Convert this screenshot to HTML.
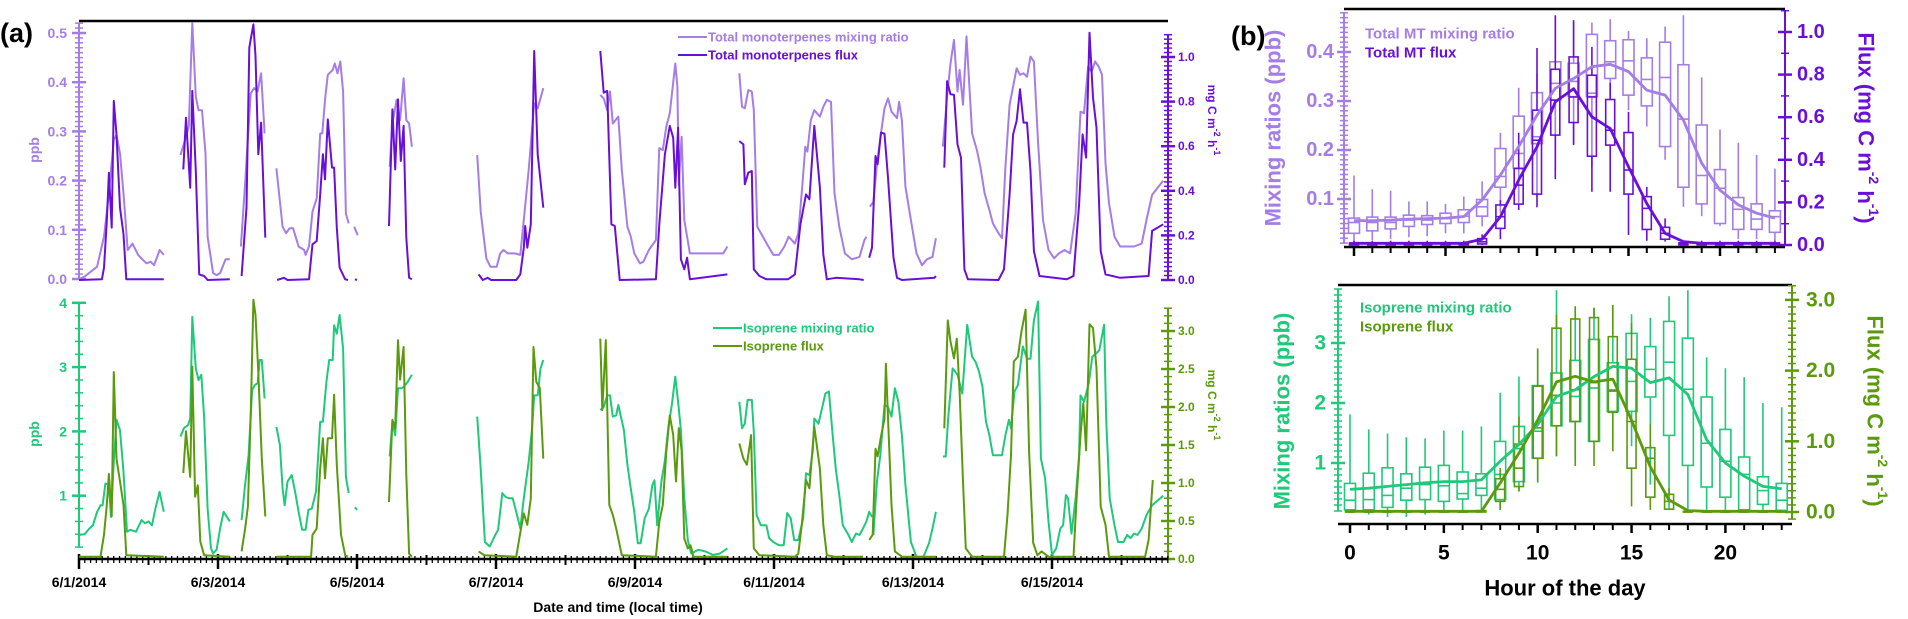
<!DOCTYPE html>
<html><head><meta charset="utf-8"><style>
html,body{margin:0;padding:0;background:#fff;}
svg{display:block;font-family:"Liberation Sans",Arial,sans-serif;font-weight:bold;}
</style></head><body>
<svg id="fig" width="1908" height="619" viewBox="0 0 1908 619" xmlns="http://www.w3.org/2000/svg"></svg>
<script>
// ---------- Panel (a) time series data (days since 6/1/2014, null = gap) ----------
const mtPpbT=[0,.08,.26,.36,.43,.50,.54,.59,.64,.70,.77,.85,.92,.97,1.03,1.08,1.16,1.22,null,
1.46,1.54,1.58,1.63,1.68,1.72,1.77,1.82,1.85,1.93,1.98,2.03,2.11,2.17,null,
2.33,2.39,2.47,2.52,2.57,2.62,2.67,null,
2.84,2.93,2.98,3.03,3.08,3.16,3.24,3.26,3.31,3.36,3.42,3.47,3.50,3.54,3.58,3.65,3.68,3.72,3.76,3.80,3.84,3.88,null,
3.96,4.01,null,
4.47,4.51,4.57,4.62,4.67,4.71,4.75,4.79,null,
5.73,5.78,5.86,5.92,6.01,6.06,6.11,6.17,6.27,6.35,6.40,6.47,6.55,6.60,6.68,null,
7.50,7.55,7.60,7.64,7.68,7.76,7.81,7.89,7.94,7.99,8.07,8.12,8.20,8.30,8.35,8.40,8.45,8.50,8.58,8.61,8.63,8.67,8.71,8.79,8.97,9.17,9.27,9.33,null,
9.50,9.54,9.58,9.63,9.68,9.71,9.76,9.84,9.92,9.99,10.07,10.15,10.21,10.30,10.35,10.41,10.45,10.48,10.53,10.58,10.66,10.71,10.76,10.82,10.87,10.94,11.02,11.12,11.23,11.30,11.33,null,
11.38,11.43,11.48,11.54,11.59,11.64,11.69,11.77,11.80,11.84,11.89,11.97,12.05,12.13,12.20,12.28,12.33,null,
12.43,12.49,12.54,12.59,12.64,12.67,12.72,12.77,12.85,12.92,12.97,13.03,13.10,13.15,13.23,13.28,13.33,13.39,13.44,13.49,13.54,13.59,13.64,13.69,13.74,13.80,13.87,13.95,14.03,14.10,14.18,14.26,14.34,14.41,14.46,14.52,14.57,14.62,14.67,14.72,14.77,14.82,14.90,14.98,15.18,15.29,15.36,15.44,15.60];
const mtPpbV=[0,.005,.025,.086,.174,.283,.293,.255,.174,.059,.072,.049,.039,.032,.035,.028,.059,.049,null,
.252,.289,.31,.52,.371,.343,.343,.255,.086,.012,.008,.012,.04,.04,null,
.066,.194,.377,.388,.381,.418,.296,null,
.225,.106,.093,.103,.103,.066,.059,.049,.066,.137,.164,.296,.296,.364,.415,.425,.438,.418,.442,.381,.133,.113,null,
.106,.089,null,
.228,.316,.364,.323,.408,.323,.316,.269,null,
.252,.137,.042,.025,.025,.052,.059,.052,.052,.049,.12,.222,.357,.347,.388,null,
.374,.367,.343,.381,.316,.33,.222,.106,.086,.052,.032,.035,.059,.079,.266,.262,.31,.337,.438,.391,.191,.289,.12,.052,.052,.052,.052,.066,null,
.418,.35,.347,.384,.381,.343,.106,.086,.066,.049,.049,.066,.086,.072,.093,.194,.269,.259,.323,.343,.33,.35,.364,.36,.174,.106,.052,.04,.045,.079,.086,null,
.147,.157,.232,.296,.347,.367,.34,.327,.36,.323,.188,.12,.052,.028,.04,.045,.083,null,
.269,.371,.438,.486,.381,.425,.354,.493,.296,.262,.228,.174,.14,.113,.093,.083,.228,.354,.391,.428,.415,.418,.411,.452,.442,.276,.12,.059,.042,.052,.059,.052,.133,.34,.337,.432,.421,.442,.432,.415,.235,.154,.086,.066,.066,.072,.12,.171,.2];

const mtFluxT=[0,.33,.36,.40,.43,.47,.50,.54,.59,.64,.68,1.22,null,
1.50,1.54,1.60,1.63,1.68,1.73,1.80,1.85,2.17,null,
2.34,2.41,2.45,2.51,2.54,2.58,2.62,2.68,null,
2.85,2.95,3.00,3.31,3.36,3.42,3.47,3.51,3.54,3.58,3.64,3.67,3.71,3.75,3.83,3.87,null,
3.97,4.00,null,
4.46,4.51,4.55,4.59,4.63,4.67,4.71,4.75,4.79,null,
5.75,5.81,5.88,5.93,6.29,6.35,6.40,6.42,6.45,6.50,6.55,6.60,6.68,null,
7.50,7.55,7.60,7.66,7.71,7.78,8.30,8.35,8.43,8.50,8.55,8.58,8.62,8.66,8.71,8.75,8.79,9.33,null,
9.50,9.56,9.58,9.63,9.68,9.71,9.79,9.89,10.20,10.30,10.38,10.46,10.51,10.58,10.66,10.71,10.76,10.89,11.23,11.29,null,
11.37,11.41,11.46,11.49,11.54,11.59,11.64,11.72,11.77,11.84,12.31,12.33,null,
12.45,12.49,12.54,12.59,12.64,12.69,12.74,12.79,13.23,13.31,13.39,13.44,13.49,13.54,13.59,13.64,13.69,13.74,13.82,14.21,14.31,14.39,14.44,14.49,14.54,14.59,14.64,14.70,14.77,14.98,15.39,15.44,15.60];
const mtFluxV=[0,.003,.055,.264,.481,.235,.803,.652,.324,.205,.003,.003,null,
.496,.728,.414,.848,.489,.025,.018,0,.003,null,
.018,.324,1.042,1.146,1.004,.564,.706,.19,null,
0,.01,0,.003,.16,.175,.384,.564,.451,.72,.504,.504,.235,.055,.003,0,null,
.003,0,null,
.242,.765,.496,.81,.534,.691,.19,.01,.003,null,
.025,0,.01,0,0,.025,.145,.242,.145,.25,1.027,.564,.324,null,
1.027,.84,.848,.25,.242,0,.003,.25,.564,.691,.638,.414,.683,.093,.048,.10,.003,.025,null,
.623,.608,.429,.481,.489,.048,.018,.003,.003,.025,.25,.384,.362,.691,.414,.115,.003,.01,.003,0,null,
.10,.145,.556,.519,.661,.656,.459,.10,.01,0,.01,.018,null,
.504,.892,.833,.83,.608,.549,.048,.003,0,.048,.384,.653,.713,.855,.706,.706,.489,.13,.018,.003,.018,.339,.653,.549,1.109,.818,.683,.13,.025,.01,.018,.22,.25];

const isoPpbT=[0,.08,.15,.20,.26,.31,.34,.38,.43,.46,.50,.54,.59,.64,.69,.74,.82,.90,.95,1.0,1.05,1.10,1.16,1.22,null,
1.46,1.51,1.57,1.60,1.63,1.68,1.72,1.76,1.80,1.85,1.90,1.93,1.98,2.03,2.08,2.17,null,
2.34,2.39,2.44,2.49,2.53,2.57,2.60,2.63,2.67,null,
2.84,2.89,2.93,2.96,3.00,3.06,3.11,3.16,3.21,3.26,3.30,3.35,3.41,3.47,3.51,3.56,3.60,3.65,3.67,3.71,3.75,3.80,3.84,3.88,null,
3.97,4.00,null,
4.47,4.51,4.55,4.59,4.64,4.67,4.73,4.79,null,
5.73,5.78,5.84,5.91,5.99,6.03,6.09,6.14,6.19,6.24,6.29,6.35,6.40,6.47,6.52,6.55,6.60,6.64,6.68,null,
7.50,7.55,7.60,7.64,7.68,7.73,7.76,7.84,7.89,7.94,7.99,8.04,8.08,8.14,8.20,8.25,8.28,8.32,8.38,8.43,8.48,8.53,8.58,8.62,8.66,8.71,8.76,8.81,8.91,9.02,9.12,9.22,9.33,null,
9.50,9.54,9.58,9.62,9.68,9.71,9.75,9.81,9.89,9.93,9.99,10.07,10.14,10.19,10.24,10.29,10.35,10.42,10.46,10.51,10.56,10.58,10.64,10.69,10.74,10.79,10.84,10.89,10.94,10.99,11.07,11.12,11.18,11.23,11.28,11.33,11.37,11.41,null,
11.43,11.48,11.53,11.59,11.64,11.69,11.74,11.79,11.84,11.89,11.97,12.05,12.15,12.23,12.28,12.33,null,
12.43,12.47,12.51,12.57,12.64,12.71,12.78,12.85,12.90,12.95,13.0,13.05,13.10,13.15,13.21,13.28,13.33,13.38,13.41,13.46,13.51,13.58,13.64,13.69,13.74,13.80,13.84,13.90,13.95,14.0,14.06,14.12,14.16,14.20,14.23,14.28,14.34,14.39,14.41,14.46,14.53,14.58,14.63,14.68,14.75,14.78,14.83,14.90,14.95,15.03,15.08,15.13,15.18,15.23,15.29,15.36,15.44,15.60];
const isoPpbV=[.39,.40,.49,.54,.75,.85,.85,1.19,1.17,.67,1.53,2.18,2.02,1.37,.44,.47,.44,.62,.57,.60,.54,.80,1.06,.75,null,
1.92,2.05,2.10,2.20,3.78,2.98,2.80,2.88,2.23,.80,.18,.10,.16,.49,.75,.60,null,
.62,1.17,1.63,2.64,2.72,2.75,3.11,3.11,2.51,null,
2.07,1.79,1.11,.85,1.22,1.32,1.06,.75,.47,.47,.78,.80,1.06,2.15,2.15,2.77,3.11,3.11,3.65,3.52,3.81,3.29,1.29,1.04,null,
.82,.78,null,
1.61,2.15,1.94,2.67,2.67,2.69,2.77,2.88,null,
2.23,1.42,.28,.21,.39,.47,1.04,.98,.96,.96,.75,.49,.96,1.53,2.05,2.56,2.56,2.98,3.11,null,
2.33,2.38,2.56,2.56,2.23,2.25,2.41,2.02,1.48,1.11,.75,.26,.26,.65,.80,1.17,1.24,.54,1.22,1.55,2.07,2.41,2.85,2.46,2.02,.96,.31,.10,.16,.13,.08,.10,.18,null,
2.46,2.05,2.12,2.49,2.49,1.99,.70,.54,.54,.34,.28,.23,.23,.73,.65,.31,.31,.65,1.35,1.32,1.71,2.20,2.12,2.36,2.59,2.62,1.99,1.40,1.01,.54,.39,.28,.41,.39,.49,.60,.75,.67,null,
.39,1.22,1.63,2.41,2.38,2.23,2.67,2.46,1.94,1.17,.28,.05,.05,.26,.49,.75,null,
1.61,1.61,2.25,2.98,2.88,2.59,3.66,3.16,3.08,2.93,2.69,2.15,1.94,1.63,1.63,1.63,1.94,2.18,2.05,2.62,2.72,3.32,3.13,3.13,3.73,4.02,1.58,1.27,.60,.08,.18,.49,.54,1.01,.96,.41,.96,1.63,2.56,2.46,2.75,3.16,3.21,3.26,3.66,2.18,.96,.54,.28,.28,.39,.34,.41,.39,.49,.70,.85,1.0];

const isoFluxT=[0,.31,.36,.40,.43,.47,.50,.54,.59,.64,.68,1.22,null,
1.50,1.54,1.60,1.63,1.67,1.71,1.745,1.80,2.17,null,
2.34,2.39,2.43,2.47,2.51,2.54,2.58,2.63,2.68,null,
2.85,3.34,3.36,3.42,3.47,3.51,3.54,3.58,3.64,3.67,3.71,3.77,3.83,3.87,null,
4.46,4.51,4.55,4.59,4.62,4.67,4.71,4.75,4.79,null,
5.75,5.83,6.29,6.36,6.40,6.45,6.50,6.54,6.58,6.63,6.68,null,
7.50,7.53,7.58,7.63,7.68,7.73,7.81,8.30,8.35,8.40,8.45,8.50,8.55,8.59,8.63,8.67,8.71,8.76,8.80,8.84,9.33,null,
9.50,9.56,9.61,9.67,9.71,9.79,10.30,10.35,10.40,10.46,10.51,10.56,10.58,10.66,10.71,10.76,10.87,11.28,null,
11.37,11.42,11.46,11.49,11.54,11.59,11.61,11.65,11.69,11.74,11.84,12.33,null,
12.45,12.50,12.54,12.59,12.63,12.67,12.72,12.76,12.85,13.31,13.36,13.41,13.45,13.51,13.56,13.62,13.67,13.73,13.79,13.85,13.95,14.31,14.36,14.41,14.45,14.49,14.54,14.59,14.64,14.70,14.77,14.82,15.34,15.39,15.45];
const isoFluxV=[.03,.03,.32,.71,1.12,.56,2.46,1.32,1.02,.71,.05,.03,null,
1.13,1.68,1.08,2.53,.82,.97,.23,.05,.03,null,
.10,.40,.69,1.89,3.41,3.21,2.46,1.32,.56,null,
.03,.03,.32,.40,1.19,1.59,1.06,1.59,1.59,2.16,1.24,.32,.05,.03,null,
.75,1.83,1.72,2.88,2.36,2.79,1.11,.07,.03,null,
.10,.05,.03,.40,.60,.45,.80,2.79,2.33,2.25,1.32,null,
2.90,1.96,2.88,.71,.58,.40,.05,.03,.49,.71,1.41,1.89,1.63,1.02,1.72,1.43,.27,.14,.18,.03,.03,null,
1.52,1.32,1.24,1.63,.14,.05,.03,.07,.45,1.04,.93,1.52,1.74,1.19,.45,.05,.03,.03,null,
.25,.32,1.45,1.35,1.61,1.85,2.57,1.63,.71,.10,.03,.03,null,
1.72,3.14,2.86,2.64,2.90,2.20,1.02,.14,.03,.03,.58,1.37,2.60,2.66,2.99,3.28,1.41,.21,.05,.10,.03,.03,.89,1.63,2.05,1.43,3.09,3.04,2.51,.69,.45,.03,.03,.25,1.04];

const dateLabels=['6/1/2014','6/3/2014','6/5/2014','6/7/2014','6/9/2014','6/11/2014','6/13/2014','6/15/2014'];
const mtPpbTicks=[0.0,0.1,0.2,0.3,0.4,0.5];
const mtFluxTicks=[0.0,0.2,0.4,0.6,0.8,1.0];
const isoPpbTicks=[1,2,3,4];
const isoFluxTicks=[0.0,0.5,1.0,1.5,2.0,2.5,3.0];

// ---------- Panel (b) diurnal data ----------
const hours=[0,1,2,3,4,5,6,7,8,9,10,11,12,13,14,15,16,17,18,19,20,21,22,23];
const mtPpbLo=[.013,.016,.018,.022,.024,.030,.030,.044,.071,.092,.105,.159,.213,.166,.302,.281,.248,.180,.084,.065,.045,.018,.018,.013];
const mtPpbQ1=[.030,.035,.039,.044,.048,.050,.052,.065,.124,.163,.213,.302,.309,.309,.346,.312,.290,.207,.124,.090,.050,.038,.038,.032];
const mtPpbMed=[.052,.052,.052,.057,.057,.060,.065,.084,.146,.193,.227,.336,.340,.316,.380,.382,.344,.348,.263,.148,.122,.079,.059,.064];
const mtPpbQ3=[.061,.063,.063,.067,.066,.071,.078,.099,.203,.269,.317,.380,.377,.436,.423,.425,.388,.420,.374,.251,.160,.103,.090,.076];
const mtPpbHi=[.148,.120,.117,.095,.095,.090,.105,.136,.235,.327,.356,.475,.465,.460,.467,.443,.428,.452,.475,.348,.242,.215,.190,.162];
const mtPpbMean=[.056,.056,.057,.059,.060,.061,.064,.098,.149,.207,.271,.326,.346,.370,.375,.360,.322,.312,.261,.173,.118,.088,.071,.061];
const mtFluxLo=[0,0,0,0,0,0,0,0,.027,.164,.177,.309,.469,.25,.25,.047,.02,.016,0,0,0,0,0,0];
const mtFluxQ1=[0,0,0,0,0,0,0,.005,.078,.192,.239,.516,.575,.417,.469,.239,.073,.027,0,0,0,0,0,0];
const mtFluxMed=[.004,.004,.004,.004,.004,.004,.004,.015,.133,.281,.492,.680,.695,.695,.539,.352,.172,.055,.004,.004,.004,.004,.004,.004];
const mtFluxQ3=[.01,.01,.01,.01,.01,.01,.01,.03,.188,.359,.633,.825,.883,.797,.683,.528,.227,.083,.01,.01,.01,.01,.01,.01];
const mtFluxHi=[.02,.02,.02,.02,.02,.02,.02,.05,.211,.527,.925,1.078,1.055,.93,.761,.625,.273,.125,.02,.02,.02,.02,.02,.02];
const mtFluxMean=[.008,.008,.008,.008,.008,.008,.008,.027,.133,.305,.461,.672,.734,.602,.547,.367,.195,.055,.016,.008,.008,.008,.008,.008];
const isoPpbLo=[.17,.14,.10,.10,.14,.17,.19,.19,.22,.53,.67,1.11,1.06,1.36,1.28,1.28,.64,.22,.22,.22,.22,.22,.22,.19];
const isoPpbQ1=[.22,.22,.26,.38,.39,.36,.40,.46,.39,.69,1.08,1.62,1.69,1.36,1.86,1.86,2.10,1.46,.96,.60,.43,.22,.31,.21];
const isoPpbMed=[.38,.39,.46,.58,.64,.62,.49,.58,.81,1.24,1.53,2.0,2.11,2.25,2.22,2.36,2.56,2.68,2.23,1.33,1.03,.81,.54,.38];
const isoPpbQ3=[.66,.83,.92,.82,.93,.96,.85,.82,1.36,1.61,2.29,2.5,2.71,3.06,2.67,3.16,2.94,3.36,3.08,2.10,1.56,1.10,.77,.66];
const isoPpbHi=[1.81,1.56,1.49,1.43,1.41,1.54,1.54,1.61,2.17,2.44,2.91,3.88,3.61,3.58,3.61,3.48,3.42,3.78,3.88,2.76,2.58,2.43,2.0,1.93];
const isoPpbMean=[.56,.58,.61,.64,.67,.69,.69,.72,1.03,1.31,1.64,2.11,2.22,2.44,2.61,2.58,2.34,2.42,2.14,1.39,1.0,.78,.61,.57];
const isoFluxLo=[0,0,0,0,0,0,0,0,.03,.29,.43,.79,.65,.65,.86,.08,.03,.03,0,0,0,0,0,0];
const isoFluxQ1=[0,0,0,0,0,0,0,0,.15,.36,.76,1.22,1.28,1.0,1.41,.62,.21,.04,0,0,0,0,0,0];
const isoFluxMed=[0,0,0,0,0,0,0,.01,.32,.62,1.19,1.65,1.73,1.83,1.71,1.28,.76,.15,0,0,0,0,0,0];
const isoFluxQ3=[.01,.01,.01,.01,.01,.01,.01,.02,.47,.96,1.78,2.60,2.73,2.75,2.48,2.16,.91,.25,.01,.01,.01,.01,.01,.01];
const isoFluxHi=[.02,.02,.02,.02,.02,.02,.02,.04,.62,1.35,2.31,2.79,2.91,2.89,2.93,2.67,1.24,.34,.02,.02,.02,.02,.02,.02];
const isoFluxMean=[.01,.01,.01,.01,.01,.01,.01,.01,.41,.83,1.30,1.84,1.92,1.84,1.88,1.30,.64,.17,.02,.01,.01,.01,.01,.01];
const hourLabels=[0,5,10,15,20];
const bMtPpbTicks=[0.1,0.2,0.3,0.4];
const bMtFluxTicks=[0.0,0.2,0.4,0.6,0.8,1.0];
const bIsoPpbTicks=[1,2,3];
const bIsoFluxTicks=[0.0,1.0,2.0,3.0];

const C_MTL='#a57de6', C_MTD='#6a0fd8', C_ISL='#1fc97a', C_ISD='#5a9a0c';
const svg=document.getElementById('fig');
const NS='http://www.w3.org/2000/svg';
function mk(tag,attrs,parent){const e=document.createElementNS(NS,tag);for(const k in attrs)e.setAttribute(k,attrs[k]);(parent||svg).appendChild(e);return e;}
function grp(name){const g=mk('g',{});return g;}
function line(g,x1,y1,x2,y2,c,w){return mk('line',{x1:x1,y1:y1,x2:x2,y2:y2,stroke:c,'stroke-width':w},g);}
function txt(g,x,y,s,size,c,anchor,rot){const t=mk('text',{x:x,y:y,'font-size':size,fill:c,'text-anchor':anchor||'middle','dominant-baseline':'central'},g);if(rot)t.setAttribute('transform','rotate('+rot+' '+x+' '+y+')');t.textContent=s;return t;}
function pathFrom(T,V,sx,sy){let d='',pen=false;for(let i=0;i<T.length;i++){if(T[i]===null||V[i]===null){pen=false;continue;}d+=(pen?'L':'M')+sx(T[i]).toFixed(1)+' '+sy(V[i]).toFixed(1);pen=true;}return d;}
function vaxis(g,x,sy,min,max,minor,majors,c,side,labFmt,labSize,labOff){
  line(g,x,sy(max),x,sy(min),c,2);
  for(let v=min;v<=max+1e-9;v+=minor){line(g,x-4,sy(v),x+4,sy(v),c,1.5);}
  majors.forEach(v=>{line(g,x-7,sy(v),x+7,sy(v),c,2.5);
    const t=txt(g,side<0?x-labOff:x+labOff,sy(v),labFmt(v),labSize,c,side<0?'end':'start');
    
    });
}

// ================= PANEL (a) =================
const aX=t=>79+69.5*t;
const aMtPpbY=v=>279-492*v;
const aMtFluxY=v=>280-223*v;
const aIsoPpbY=v=>560-64.3*v;
const aIsoFluxY=v=>559-76*v;
const pa=grp('panel-a');
const lblA=txt(pa,0,33,'(a)',27,'#000','start');


const topLine=line(pa,79,21,1168,21,'#000',2.5);



const ax1=grp('mt-ppb-axis'); pa.appendChild(ax1);
vaxis(ax1,79,aMtPpbY,0,0.52,0.01,mtPpbTicks,C_MTL,-1,v=>v.toFixed(1),14,12);
const ax2=grp('mt-flux-axis'); pa.appendChild(ax2);
vaxis(ax2,1168,aMtFluxY,0,1.1,0.02,mtFluxTicks,C_MTD,1,v=>v.toFixed(1),12,10);
const ax3=grp('iso-ppb-axis'); pa.appendChild(ax3);
vaxis(ax3,79,aIsoPpbY,0.2,4,0.2,isoPpbTicks,C_ISL,-1,v=>String(v),14,12);
const ax4=grp('iso-flux-axis'); pa.appendChild(ax4);
vaxis(ax4,1168,aIsoFluxY,0,3.3,0.1,isoFluxTicks,C_ISD,1,v=>v.toFixed(1),12,10);

const yl1=txt(pa,34,150,'ppb',14,C_MTL,'middle',-90);


const yl2=txt(pa,34,434,'ppb',14,C_ISL,'middle',-90);


function unitLabel(x,y,c,name){const t=mk('text',{x:x,y:y,'font-size':12,fill:c,'text-anchor':'middle','dominant-baseline':'central',transform:'rotate(90 '+x+' '+y+')'},pa);
  
  
  t.innerHTML='mg C m<tspan dy="-5" font-size="9">-2</tspan><tspan dy="5"> h</tspan><tspan dy="-5" font-size="9">-1</tspan>';}
unitLabel(1212,120,C_MTD,'mt-flux-axis-title');
unitLabel(1212,405,C_ISD,'iso-flux-axis-title');

const xa=grp('date-x-axis'); pa.appendChild(xa);
line(xa,79,559,1168,559,'#000',2.5);
for(let h=0;h<=15.67*24;h+=2){const x=aX(h/24);if(h%48===0)line(xa,x,554,x,569,'#000',2.5);else if(h%24===0)line(xa,x,555,x,565,'#000',2);else line(xa,x,556,x,563,'#000',1.3);}
dateLabels.forEach((s,i)=>{const t=txt(xa,aX(i*2),582,s,14,'#000','middle');
  
  });
const xt=txt(pa,618,607,'Date and time (local time)',14,'#000','middle');



const s1=mk('path',{d:pathFrom(mtPpbT,mtPpbV,aX,aMtPpbY),fill:'none',stroke:C_MTL,'stroke-width':2,'stroke-linejoin':'round'},pa);


const s2=mk('path',{d:pathFrom(mtFluxT,mtFluxV,aX,aMtFluxY),fill:'none',stroke:C_MTD,'stroke-width':2,'stroke-linejoin':'round'},pa);


const s3=mk('path',{d:pathFrom(isoPpbT,isoPpbV,aX,aIsoPpbY),fill:'none',stroke:C_ISL,'stroke-width':2,'stroke-linejoin':'round'},pa);


const s4=mk('path',{d:pathFrom(isoFluxT,isoFluxV,aX,aIsoFluxY),fill:'none',stroke:C_ISD,'stroke-width':2,'stroke-linejoin':'round'},pa);



function legendEntry(g,x,y,c,s,name){const gg=mk('g',{},g);
  
  
  line(gg,x,y,x+29,y,c,2);txt(gg,x+30,y,s,13,c,'start');}
const lg1=grp('mt-legend'); pa.appendChild(lg1);
legendEntry(lg1,678,37,C_MTL,'Total monoterpenes mixing ratio','legend-entry-mt-ratio');
legendEntry(lg1,678,55,C_MTD,'Total monoterpenes flux','legend-entry-mt-flux');
const lg2=grp('iso-legend'); pa.appendChild(lg2);
legendEntry(lg2,713,328,C_ISL,'Isoprene mixing ratio','legend-entry-iso-ratio');
legendEntry(lg2,713,346,C_ISD,'Isoprene flux','legend-entry-iso-flux');

// ================= PANEL (b) =================
const pb=grp('panel-b');
const lblB=txt(pb,1231,36,'(b)',27,'#000','start');


function boxes(g,X,Y,lo,q1,md,q3,hi,c,w,name){hours.forEach((h,i)=>{const b=mk('g',{},g);
  
  
  const x=X(h);
  line(b,x,Y(hi[i]),x,Y(q3[i]),c,1.6);line(b,x,Y(q1[i]),x,Y(lo[i]),c,1.6);
  mk('rect',{x:x-w/2,y:Y(q3[i]),width:w,height:Math.max(0.5,Y(q1[i])-Y(q3[i])),fill:'none',stroke:c,'stroke-width':1.6},b);
  line(b,x-w/2,Y(md[i]),x+w/2,Y(md[i]),c,1.6);});}
function meanLine(g,X,Y,V,c,name){const p=mk('path',{d:pathFrom(hours,V,X,Y),fill:'none',stroke:c,'stroke-width':2.8,'stroke-linejoin':'round'},g);
  
  }
function hourAxis(g,X,y,x0,x1,labels){line(g,x0,y,x1,y,'#000',2.5);
  for(let h=0;h<=23;h++){const x=X(h);line(g,x,y,x,y+(h%5===0?9:6),'#000',h%5===0?2.5:2);}
  if(labels)hourLabels.forEach(h=>{const t=txt(g,X(h),553,String(h),21,'#000','middle');
    
    });}
function bigTitle(g,x,y,c,rot,html,name){const t=mk('text',{x:x,y:y,'font-size':22,fill:c,'text-anchor':'middle','dominant-baseline':'central',transform:'rotate('+rot+' '+x+' '+y+')'},g);
  
  
  t.innerHTML=html;}

const bX1=h=>1354+18.3*h;
const bMtPpbY=v=>248-490*v;
const bMtFluxY=v=>245-213*v;
const bt=grp('mt-diurnal-plot'); pb.appendChild(bt);
line(bt,1344,9,1785,9,'#000',2.5);
hourAxis(bt,bX1,247,1344,1785,false);
const bax1=grp('mt-diurnal-ppb-axis'); bt.appendChild(bax1);
vaxis(bax1,1344,bMtPpbY,0.01,0.48,0.01,bMtPpbTicks,C_MTL,-1,v=>v.toFixed(1),20,10);
const bax2=grp('mt-diurnal-flux-axis'); bt.appendChild(bax2);
vaxis(bax2,1785,bMtFluxY,0,1.1,0.1,bMtFluxTicks,C_MTD,1,v=>v.toFixed(1),20,12);
boxes(bt,bX1,bMtPpbY,mtPpbLo,mtPpbQ1,mtPpbMed,mtPpbQ3,mtPpbHi,C_MTL,11,'mt-ratio-box');
boxes(bt,bX1,bMtFluxY,mtFluxLo,mtFluxQ1,mtFluxMed,mtFluxQ3,mtFluxHi,C_MTD,9,'mt-flux-box');
meanLine(bt,bX1,bMtPpbY,mtPpbMean,C_MTL,'mt-ratio-mean-line');
meanLine(bt,bX1,bMtFluxY,mtFluxMean,C_MTD,'mt-flux-mean-line');
const lt1=txt(bt,1365,34,'Total MT mixing ratio',15,C_MTL,'start');


const lt2=txt(bt,1365,53,'Total MT flux',15,C_MTD,'start');


bigTitle(bt,1273,128,C_MTL,-90,'Mixing ratios (ppb)','mt-diurnal-y-title');
bigTitle(bt,1866,128,C_MTD,90,'Flux (mg C m<tspan dy="-8" font-size="14">-2</tspan><tspan dy="8"> h</tspan><tspan dy="-8" font-size="14">-1</tspan><tspan dy="8">)</tspan>','mt-diurnal-flux-title');

const bX2=h=>1350+18.77*h;
const bIsoPpbY=v=>523-60*v;
const bIsoFluxY=v=>512-70.7*v;
const bb=grp('iso-diurnal-plot'); pb.appendChild(bb);
line(bb,1338,285,1792,285,'#000',2.5);
hourAxis(bb,bX2,524,1338,1792,true);
const bax3=grp('iso-diurnal-ppb-axis'); bb.appendChild(bax3);
vaxis(bax3,1338,bIsoPpbY,0.2,3.9,0.1,bIsoPpbTicks,C_ISL,-1,v=>String(v),21,12);
const bax4=grp('iso-diurnal-flux-axis'); bb.appendChild(bax4);
vaxis(bax4,1792,bIsoFluxY,-0.1,3.2,0.1,bIsoFluxTicks,C_ISD,1,v=>v.toFixed(1),21,14);
boxes(bb,bX2,bIsoPpbY,isoPpbLo,isoPpbQ1,isoPpbMed,isoPpbQ3,isoPpbHi,C_ISL,11,'iso-ratio-box');
boxes(bb,bX2,bIsoFluxY,isoFluxLo,isoFluxQ1,isoFluxMed,isoFluxQ3,isoFluxHi,C_ISD,9,'iso-flux-box');
meanLine(bb,bX2,bIsoPpbY,isoPpbMean,C_ISL,'iso-ratio-mean-line');
meanLine(bb,bX2,bIsoFluxY,isoFluxMean,C_ISD,'iso-flux-mean-line');
const lt3=txt(bb,1360,308,'Isoprene mixing ratio',15,C_ISL,'start');


const lt4=txt(bb,1360,327,'Isoprene flux',15,C_ISD,'start');


bigTitle(bb,1282,411,C_ISL,-90,'Mixing ratios (ppb)','iso-diurnal-y-title');
bigTitle(bb,1875,411,C_ISD,90,'Flux (mg C m<tspan dy="-8" font-size="14">-2</tspan><tspan dy="8"> h</tspan><tspan dy="-8" font-size="14">-1</tspan><tspan dy="8">)</tspan>','iso-diurnal-flux-title');
const ht=txt(pb,1565,588,'Hour of the day',22,'#000','middle');


</script>
</body></html>
